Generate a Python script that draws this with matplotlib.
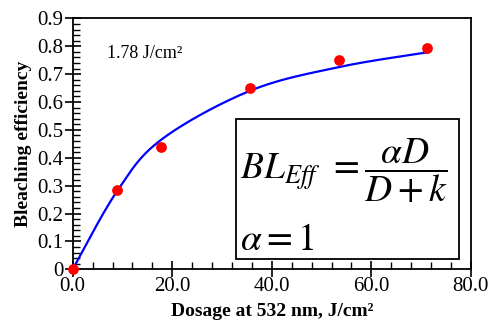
import numpy as np
import matplotlib.pyplot as plt
from matplotlib.ticker import MultipleLocator, FuncFormatter
from matplotlib.patches import Rectangle

# measured points
dose = [0.0, 8.9, 17.8, 35.6, 53.4, 71.2]
eff = [0.0, 0.285, 0.44, 0.65, 0.75, 0.795]

# fitted curve at the same dosages
fit_dose = [0.0, 8.9, 17.8, 35.6, 53.4, 71.2]
fit_eff = [0.0, 0.28, 0.465, 0.64, 0.725, 0.778]


def smooth_line(x, y, n=40):
    # Excel-style smoothed line: cubic Bezier between neighbours
    x = np.asarray(x, float)
    y = np.asarray(y, float)
    px = np.concatenate([[x[0]], x, [x[-1]]])
    py = np.concatenate([[y[0]], y, [y[-1]]])
    t = np.linspace(0, 1, n)
    xs, ys = [], []
    for i in range(1, len(px) - 2):
        p0 = np.array([px[i], py[i]])
        p3 = np.array([px[i + 1], py[i + 1]])
        p1 = p0 + (np.array([px[i + 1], py[i + 1]]) - np.array([px[i - 1], py[i - 1]])) / 6
        p2 = p3 - (np.array([px[i + 2], py[i + 2]]) - np.array([px[i], py[i]])) / 6
        b = ((1 - t) ** 3)[:, None] * p0 + (3 * (1 - t) ** 2 * t)[:, None] * p1 \
            + (3 * (1 - t) * t ** 2)[:, None] * p2 + (t ** 3)[:, None] * p3
        xs.append(b[:, 0])
        ys.append(b[:, 1])
    return np.concatenate(xs), np.concatenate(ys)


plt.rcParams['font.family'] = ['Liberation Serif', 'DejaVu Serif']
plt.rcParams['mathtext.fontset'] = 'stix'

fig = plt.figure(figsize=(4.89, 3.22), dpi=100)
ax = fig.add_axes([0.1487, 0.1637, 0.8143, 0.7793])

sx, sy = smooth_line(fit_dose, fit_eff)
ax.plot(sx, sy, color='#0000ff', lw=1.6, zorder=2, clip_on=False)
ax.scatter(dose, eff, s=60, color='#ff0000', zorder=3, clip_on=False, linewidths=0)

ax.set_xlim(0, 80)
ax.set_ylim(0, 0.9)
ax.xaxis.set_major_locator(MultipleLocator(20))
ax.xaxis.set_minor_locator(MultipleLocator(4))
ax.yaxis.set_major_locator(MultipleLocator(0.1))
ax.yaxis.set_minor_locator(MultipleLocator(0.02))
ax.xaxis.set_major_formatter(FuncFormatter(lambda v, p: f'{v:.1f}'))
ax.yaxis.set_major_formatter(FuncFormatter(lambda v, p: '0' if abs(v) < 1e-9 else f'{v:.1f}'))
ax.tick_params(which='major', direction='inout', length=11, width=1.2, labelsize=15, pad=0)
ax.tick_params(which='minor', direction='in', length=5, width=1.0)
ax.tick_params(axis='y', pad=1)
for s in ax.spines.values():
    s.set_linewidth(1.3)

ax.set_xlabel('Dosage at 532 nm, J/cm²', fontsize=14, fontweight='bold', labelpad=5)
ax.set_ylabel('Bleaching efficiency', fontsize=14, fontweight='bold', labelpad=4)

ax.text(0.085, 0.86, '1.78 J/cm²', transform=ax.transAxes, fontsize=13, va='center', ha='left')

ax.add_patch(Rectangle((0.41, 0.04), 0.56, 0.56, transform=ax.transAxes,
                       fill=True, facecolor='white', edgecolor='black', lw=1.3, zorder=4))
ax.text(0.42, 0.395, r'$BL_{Eff}\;\,=\dfrac{\alpha D}{D+k}$', transform=ax.transAxes,
        fontsize=27, va='center', ha='left', zorder=5)
ax.text(0.42, 0.115, r'$\alpha=1$', transform=ax.transAxes,
        fontsize=27, va='center', ha='left', zorder=5)

fig.savefig('out.png', dpi=100)
